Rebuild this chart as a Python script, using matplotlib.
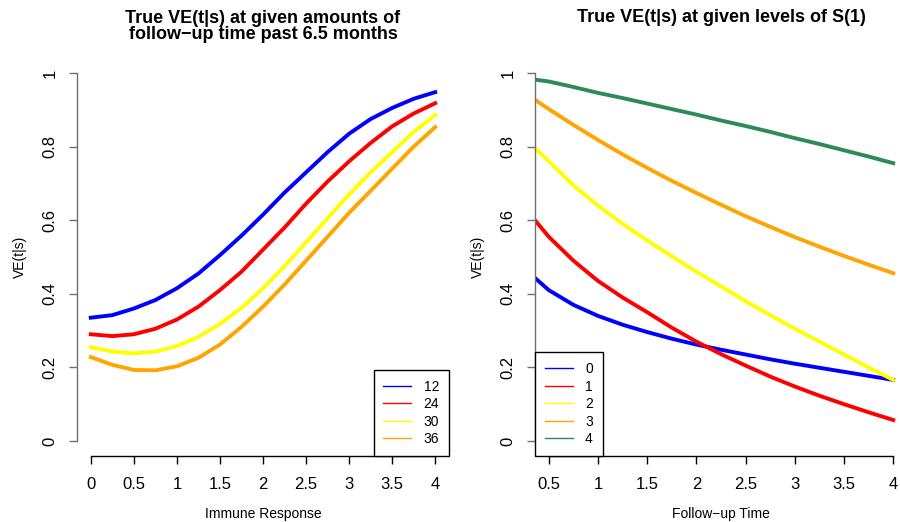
import numpy as np
import matplotlib.pyplot as plt

plt.rcParams['font.family'] = ['Liberation Sans', 'DejaVu Sans']

# 左图: 免疫反应 (x) 对应的 VE, 分别为不同随访时间
immune = [0, 0.25, 0.5, 0.75, 1, 1.25, 1.5, 1.75, 2, 2.25, 2.5, 2.75, 3, 3.25, 3.5, 3.75, 4]
ve_12 = [0.335, 0.342, 0.360, 0.383, 0.415, 0.455, 0.505, 0.558, 0.615, 0.675, 0.730,
         0.785, 0.835, 0.875, 0.905, 0.930, 0.948]
ve_24 = [0.290, 0.285, 0.290, 0.305, 0.330, 0.365, 0.410, 0.460, 0.520, 0.580, 0.645,
         0.705, 0.760, 0.810, 0.855, 0.890, 0.918]
ve_30 = [0.255, 0.243, 0.238, 0.243, 0.258, 0.283, 0.318, 0.362, 0.415, 0.475, 0.540,
         0.605, 0.670, 0.730, 0.785, 0.840, 0.886]
ve_36 = [0.228, 0.207, 0.193, 0.192, 0.203, 0.226, 0.262, 0.310, 0.365, 0.425, 0.490,
         0.555, 0.620, 0.680, 0.740, 0.800, 0.853]
left_labels = ['12', '24', '30', '36']

# 右图: 随访时间 (x) 对应的 VE, 分别为不同 S(1) 水平
follow = [0.36, 0.5, 0.75, 1, 1.25, 1.5, 1.75, 2, 2.25, 2.5, 2.75, 3, 3.25, 3.5, 3.75, 4]
ve_s0 = [0.443, 0.410, 0.370, 0.340, 0.316, 0.296, 0.278, 0.262, 0.248, 0.235, 0.222,
         0.210, 0.199, 0.188, 0.177, 0.166]
ve_s1 = [0.600, 0.555, 0.490, 0.435, 0.390, 0.350, 0.308, 0.270, 0.236, 0.205, 0.175,
         0.148, 0.123, 0.100, 0.078, 0.057]
ve_s2 = [0.796, 0.760, 0.695, 0.640, 0.590, 0.545, 0.502, 0.460, 0.420, 0.380, 0.342,
         0.305, 0.270, 0.235, 0.200, 0.166]
ve_s3 = [0.927, 0.902, 0.859, 0.818, 0.779, 0.742, 0.707, 0.674, 0.642, 0.611, 0.582,
         0.554, 0.528, 0.503, 0.479, 0.456]
ve_s4 = [0.982, 0.977, 0.962, 0.946, 0.932, 0.917, 0.902, 0.887, 0.871, 0.856, 0.840,
         0.823, 0.807, 0.790, 0.773, 0.755]
right_labels = ['0', '1', '2', '3', '4']

left_colors = ['blue', 'red', 'yellow', 'orange']
right_colors = ['blue', 'red', 'yellow', 'orange', 'seagreen']

W, H = 900, 522
fig = plt.figure(figsize=(9, 5.22), dpi=100)

# 坐标区位置 (像素换算为比例)
ax1 = fig.add_axes([77 / W, 1 - 455.7 / H, 372 / W, (455.7 - 58.3) / H])
ax2 = fig.add_axes([535 / W, 1 - 455.7 / H, 372 / W, (455.7 - 58.3) / H])


def r_style(ax, xticks, xlim):
    # 模仿 R 的默认坐标轴样式
    ax.set_xlim(xlim)
    ax.set_ylim(-0.04, 1.04)
    for s in ['top', 'right']:
        ax.spines[s].set_visible(False)
    ax.spines['bottom'].set_bounds(xticks[0], xticks[-1])
    ax.spines['left'].set_bounds(0, 1)
    ax.spines['left'].set_color('#707070')
    ax.spines['bottom'].set_linewidth(1.0)
    ax.spines['left'].set_linewidth(1.0)
    ax.set_xticks(xticks)
    ax.set_xticklabels(['%g' % v for v in xticks])
    ax.set_yticks([0, 0.2, 0.4, 0.6, 0.8, 1])
    ax.set_yticklabels(['0', '0.2', '0.4', '0.6', '0.8', '1'], rotation=90, va='center')
    ax.tick_params(axis='both', direction='out', length=6, width=1, labelsize=12, pad=9)
    ax.tick_params(axis='y', color='#707070', pad=8)


def r_legend(ax, loc):
    leg = ax.legend(loc=loc, borderaxespad=0, fontsize=10, frameon=True,
                    fancybox=False, edgecolor='black', framealpha=1, handlelength=2.0,
                    labelspacing=0.25, borderpad=0.7, handletextpad=0.9)
    leg.get_frame().set_linewidth(1.0)
    for h in leg.get_lines():
        h.set_linewidth(1.0)


# 左图
for y, c, lab in zip([ve_12, ve_24, ve_30, ve_36], left_colors, left_labels):
    ax1.plot(immune, y, color=c, lw=2.8, solid_joinstyle='round', label=lab)
r_style(ax1, [0, 0.5, 1, 1.5, 2, 2.5, 3, 3.5, 4], (-0.16, 4.16))
ax1.set_xlabel('Immune Response', fontsize=10, labelpad=11)
ax1.set_ylabel('VE(t|s)', fontsize=10, labelpad=11)
r_legend(ax1, 'lower right')

# 右图
for y, c, lab in zip([ve_s0, ve_s1, ve_s2, ve_s3, ve_s4], right_colors, right_labels):
    ax2.plot(follow, y, color=c, lw=2.8, solid_joinstyle='round', label=lab)
r_style(ax2, [0.5, 1, 1.5, 2, 2.5, 3, 3.5, 4], (0.36, 4.14))
ax2.set_xlabel('Follow\u2212up Time', fontsize=10, labelpad=11)
ax2.set_ylabel('VE(t|s)', fontsize=10, labelpad=11)
r_legend(ax2, 'lower left')

# 标题
fig.text(263 / W, 1 - 26.5 / H, 'True VE(t|s) at given amounts of\nfollow\u2212up time past 6.5 months',
         ha='center', va='center', fontsize=13, fontweight='bold', linespacing=0.95)
fig.text(721 / W, 1 - 18 / H, 'True VE(t|s) at given levels of S(1)',
         ha='center', va='center', fontsize=13, fontweight='bold')

plt.savefig('out.png', dpi=100)
